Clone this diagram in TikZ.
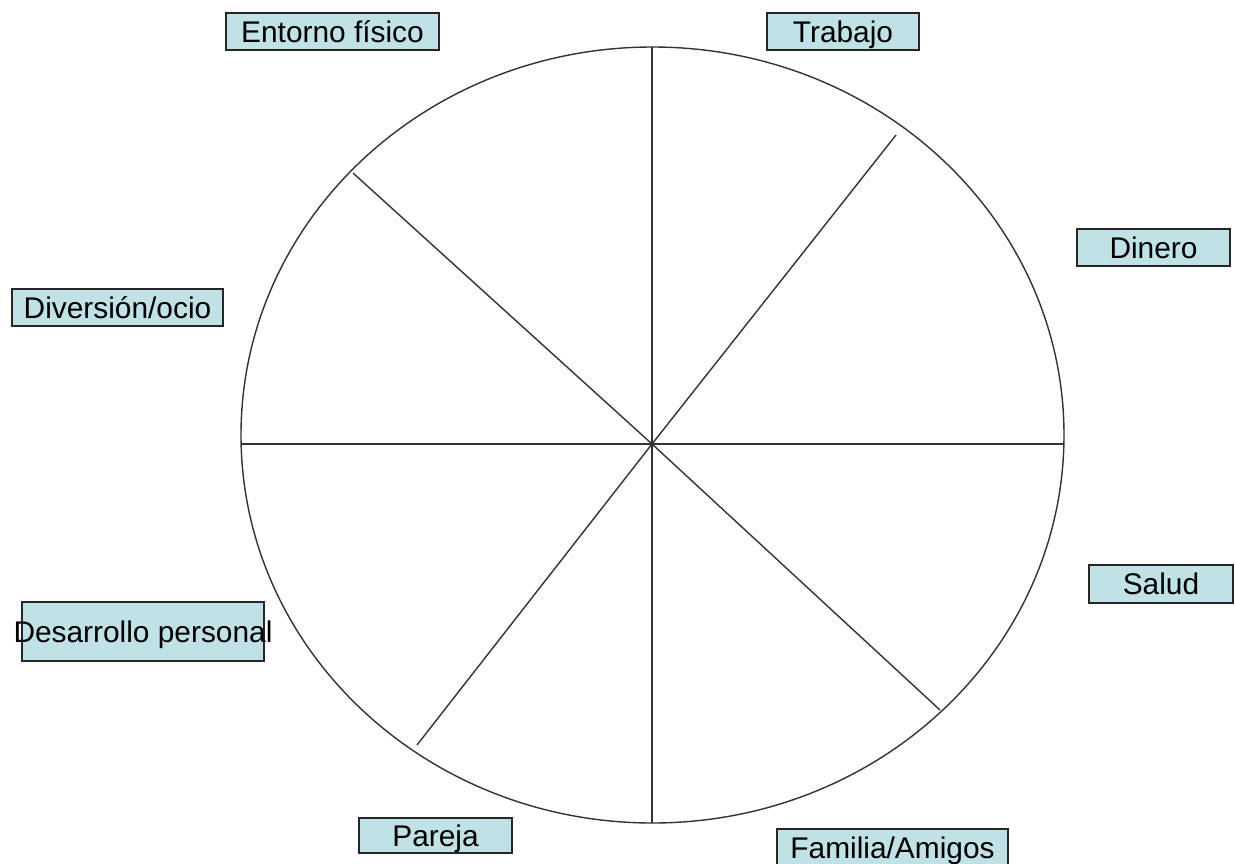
\documentclass[tikz,border=0pt]{standalone}
\usepackage{fontspec}
\setmainfont{Liberation Sans}
\definecolor{celeste}{RGB}{192,226,230}
\tikzset{
    etiqueta/.style={draw=black!85, fill=celeste, line width=0.8pt, inner sep=0pt,
        minimum height=0.74cm, text height=12.2pt, text depth=0pt,
        font=\fontsize{17pt}{20pt}\selectfont},
    radio/.style={line width=0.8pt, black!80}
}
\begin{document}
\begin{tikzpicture}[x=0.02cm, y=-0.02cm]
    \useasboundingbox (0,0) rectangle (1235,863);

    % Rueda de la vida
    \draw[radio] (652.5,435) ellipse (411.5 and 388);
    \coordinate (centro) at (652,444);

    % Extremos de los radios
    \foreach \nombre/\cx/\cy in {arriba/652/47, abajo/652/823, izq/241/444, der/1064/444,
                                 ne/896/135, no/353/173, se/940/710, so/417/745} {
        \coordinate (\nombre) at (\cx,\cy);
    }
    \foreach \n in {arriba, abajo, izq, der, ne, no, se, so} {
        \draw[radio] (centro) -- (\n);
    }

    % Etiquetas de las areas
    \node[etiqueta, minimum width=4.26cm] (entorno) at (332.5,31.5) {Entorno físico};
    \node[etiqueta, minimum width=3.04cm] (trabajo) at (843,31.5) {Trabajo};
    \node[etiqueta, minimum width=3.06cm] (dinero) at (1153.5,247.5) {Dinero};
    \node[etiqueta, minimum width=4.22cm] (diversion) at (117.5,307.5) {Diversión/ocio};
    \node[etiqueta, minimum width=2.88cm, minimum height=0.76cm] (salud) at (1161,584) {Salud};
    \node[etiqueta, minimum height=1.18cm, inner xsep=-0.17cm] (desarrollo) at (143,631.5) {Desarrollo personal};
    \node[etiqueta, minimum width=3.06cm, minimum height=0.70cm] (pareja) at (435.5,835.5) {Pareja};
    \node[etiqueta, minimum width=4.62cm] (familia) at (892.5,847.5) {Familia/Amigos};
\end{tikzpicture}
\end{document}
